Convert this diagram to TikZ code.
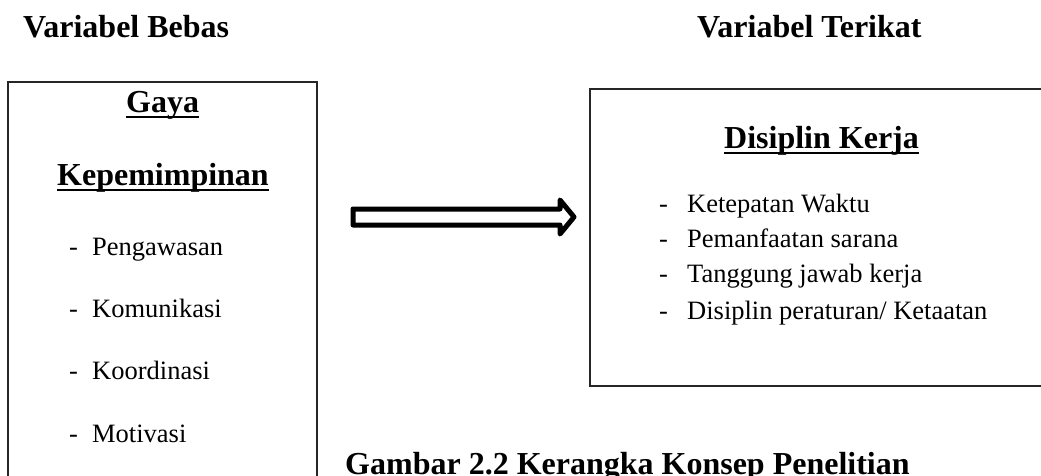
\documentclass[tikz,border=0pt]{standalone}
\usepackage{fontspec}
\setmainfont{Liberation Serif}
\newcommand\myul[1]{\setbox0\hbox{#1}\rlap{\box0}\setbox0\hbox{#1}\rule[-6.3pt]{\wd0}{2.4pt}}
\begin{document}
\begin{tikzpicture}[x=1pt,y=-1pt,
  head/.style={anchor=base west,inner sep=0pt,font=\fontsize{32}{38}\selectfont\bfseries},
  item/.style={anchor=base west,inner sep=0pt,font=\fontsize{26.5}{32}\selectfont},
  box/.style={draw=black!85,line width=1.8pt},
  blockarrow/.style={draw=black,line width=5pt,line join=round,fill=white}]
\useasboundingbox (0,0) rectangle (1041,475);
\clip (0,0) rectangle (1041,475);
% headings
\node[head] (vb) at (23,37) {Variabel Bebas};
\node[head] (vt) at (697,37) {Variabel Terikat};
% left box
\draw[box] (8,82) rectangle (317,490);
\node[head] (gaya) at (126,112) {\myul{Gaya}};
\node[head] (kep) at (57,185) {\myul{Kepemimpinan}};
\node[item] (l1) at (69,255) {\makebox[23pt][l]{-}Pengawasan};
\node[item] (l2) at (69,317) {\makebox[23pt][l]{-}Komunikasi};
\node[item] (l3) at (69,379) {\makebox[23pt][l]{-}Koordinasi};
\node[item] (l4) at (69,442) {\makebox[23pt][l]{-}Motivasi};
% arrow
\draw[blockarrow] (353,209) -- (560,209) -- (560,200) -- (574,217) -- (560,234) -- (560,225) -- (353,225) -- cycle;
% right box
\draw[box] (590,89) rectangle (1060,386);
\node[head] (dk) at (724,148) {\myul{Disiplin Kerja}};
\node[item] (r1) at (659,212) {\makebox[28pt][l]{-}Ketepatan Waktu};
\node[item] (r2) at (659,247) {\makebox[28pt][l]{-}Pemanfaatan sarana};
\node[item] (r3) at (659,282) {\makebox[28pt][l]{-}Tanggung jawab kerja};
\node[item] (r4) at (659,319) {\makebox[28pt][l]{-}Disiplin peraturan/ Ketaatan};
% caption
\node[head] (cap) at (345,474) {Gambar 2.2 Kerangka Konsep Penelitian};
\end{tikzpicture}
\end{document}
